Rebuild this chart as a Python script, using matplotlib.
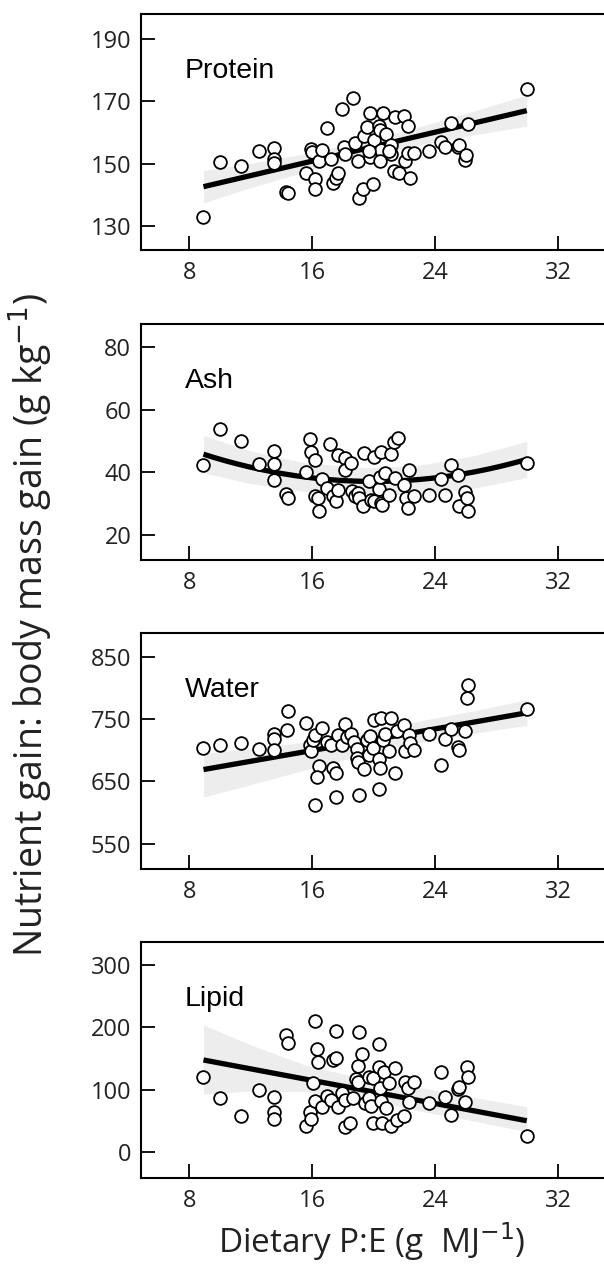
import numpy as np
import matplotlib
matplotlib.use("Agg")
import matplotlib.pyplot as plt

# dietary P:E (g MJ-1) and nutrient gain : body mass gain (g kg-1)
protein_x = [8.92, 10.02, 11.38, 12.54, 13.48, 13.48, 13.53, 14.29, 14.45, 15.6, 15.94, 16.0,
             16.2, 16.2, 16.42, 16.64, 16.99, 17.21, 17.36, 17.52, 17.65, 17.96, 18.07, 18.13,
             18.68, 18.79, 18.96, 19.05, 19.29, 19.38, 19.6, 19.78, 19.78, 19.93, 20.0, 20.37,
             20.43, 20.5, 20.43, 20.59, 20.82, 21.1, 21.16, 21.33, 21.42, 21.64, 21.97, 22.04,
             22.25, 22.25, 22.4, 22.63, 23.61, 24.38, 24.67, 25.04, 25.48, 25.59, 25.98, 26.03,
             26.14, 29.97, 19.67, 21.0]
protein_y = [132.8, 150.6, 149.1, 153.9, 155.0, 151.4, 150.1, 141.0, 140.5, 147.1, 154.6, 153.6,
             145.0, 141.8, 150.7, 154.4, 161.4, 151.4, 143.7, 145.3, 147.1, 167.6, 155.3, 153.1,
             171.0, 156.6, 150.9, 139.1, 141.8, 158.7, 161.7, 166.2, 152.1, 143.5, 157.6, 162.1,
             160.9, 154.4, 150.7, 166.2, 159.6, 156.0, 153.1, 147.5, 165.1, 147.1, 165.4, 150.7,
             162.1, 153.4, 145.3, 153.4, 154.2, 156.8, 155.3, 163.0, 155.3, 156.0, 151.2, 152.8,
             162.8, 174.0, 153.9, 153.9]

ash_x = [8.92, 10.02, 11.38, 12.54, 13.48, 13.53, 13.53, 14.29, 14.45, 15.6, 15.83, 15.94,
         16.2, 16.16, 16.38, 16.42, 16.64, 16.99, 17.19, 17.36, 17.52, 17.65, 17.65, 18.13,
         18.13, 18.53, 18.61, 18.79, 19.0, 19.05, 19.29, 19.4, 19.67, 19.84, 20.0, 20.0,
         20.32, 20.43, 20.5, 20.5, 20.54, 20.76, 20.98, 21.1, 21.31, 21.42, 21.6, 21.97,
         22.08, 22.25, 22.3, 22.63, 23.61, 24.38, 24.67, 25.04, 25.48, 25.55, 25.98, 26.09,
         26.14, 29.97]
ash_y = [42.2, 53.8, 50.1, 42.6, 46.9, 42.6, 37.6, 33.0, 31.7, 40.2, 50.7, 46.6,
         44.0, 32.6, 31.7, 27.7, 38.0, 34.9, 49.0, 32.3, 30.9, 34.5, 45.4, 44.7,
         40.8, 42.9, 34.1, 32.3, 33.3, 31.9, 29.1, 46.1, 37.3, 31.2, 45.0, 30.7,
         34.8, 38.6, 46.4, 30.1, 29.6, 39.7, 32.8, 45.8, 49.6, 38.1, 51.1, 36.0,
         31.7, 28.7, 40.8, 32.3, 32.8, 37.9, 32.8, 42.2, 39.2, 29.4, 33.6, 31.7,
         27.7, 42.9]

water_x = [8.92, 10.02, 11.38, 12.54, 13.48, 13.53, 13.48, 14.45, 14.36, 15.6, 15.83, 15.94,
           16.05, 16.2, 16.42, 16.31, 16.2, 16.64, 16.99, 17.21, 17.36, 17.58, 17.52, 17.65,
           17.96, 18.13, 18.24, 18.53, 18.75, 18.9, 18.9, 19.0, 19.05, 19.34, 19.56, 19.71,
           19.78, 19.93, 20.0, 20.32, 20.32, 20.43, 20.5, 20.59, 20.76, 21.03, 21.1, 21.38,
           21.53, 21.97, 22.04, 22.3, 22.4, 22.63, 23.61, 24.38, 24.67, 25.04, 25.48, 25.55,
           25.98, 26.09, 26.14, 29.97]
water_y = [703.5, 708.8, 712.0, 701.3, 726.4, 718.4, 699.7, 762.1, 731.7, 744.0, 708.8, 698.1,
           715.7, 724.8, 674.7, 657.1, 611.8, 735.4, 713.1, 707.7, 671.5, 663.5, 625.1, 724.8,
           707.7, 741.8, 721.0, 726.4, 713.1, 701.3, 687.5, 681.1, 628.9, 669.4, 715.7, 692.8,
           722.6, 703.5, 748.8, 638.5, 685.3, 671.5, 751.4, 715.7, 726.4, 698.1, 751.4, 664.0,
           730.1, 740.8, 698.1, 723.7, 712.0, 699.7, 726.4, 675.8, 717.3, 733.3, 705.1, 699.7,
           730.1, 783.4, 805.2, 766.3]

lipid_x = [8.92, 10.02, 11.38, 12.54, 13.48, 13.48, 13.53, 14.29, 14.45, 15.6, 15.83, 15.94,
           16.05, 16.2, 16.33, 16.38, 16.2, 16.64, 16.99, 17.21, 17.36, 17.52, 17.58, 17.65,
           17.96, 18.13, 18.13, 18.46, 18.68, 18.83, 18.96, 19.0, 19.05, 19.27, 19.45, 19.67,
           19.71, 19.84, 19.93, 19.93, 20.32, 20.37, 20.43, 20.5, 20.54, 20.65, 20.82, 21.03,
           21.16, 21.38, 21.53, 21.97, 22.04, 22.25, 22.3, 22.63, 23.61, 24.38, 24.67, 25.04,
           25.48, 25.59, 25.98, 26.09, 26.14, 29.97]
lipid_y = [121.2, 86.5, 58.2, 99.8, 89.1, 65.1, 53.4, 187.9, 174.6, 42.7, 65.1, 53.4,
           110.5, 210.3, 165.5, 144.1, 82.2, 73.1, 90.7, 83.8, 147.9, 194.3, 151.6, 73.1,
           94.5, 83.8, 41.1, 46.4, 87.5, 117.4, 113.2, 138.8, 193.2, 156.9, 78.5, 87.5,
           121.2, 74.7, 119.6, 46.4, 172.9, 137.2, 102.5, 82.2, 46.4, 128.1, 71.5, 110.5,
           42.7, 134.5, 51.8, 58.7, 113.2, 102.5, 81.1, 112.1, 78.5, 129.2, 89.1, 59.8,
           101.4, 105.2, 80.1, 137.2, 121.2, 26.7]

# fitted curves (polynomial coefficients, highest power first) as drawn in the figure
protein_fit = [1.159, 132.26]
ash_fit = [0.0708, -2.832, 65.42]
water_fit = [4.32, 630.5]
lipid_fit = [-4.622, 189.0]

# confidence band edges read at these P:E values
band_x = [8.92, 12, 15.5, 19.5, 23, 26.5, 29.97]
protein_lo = [137.4, 142.3, 147.3, 152.4, 156.0, 159.2, 162.0]
protein_hi = [147.8, 150.1, 153.1, 157.4, 161.8, 166.8, 172.0]
ash_lo = [39.8, 36.4, 33.9, 32.7, 33.1, 34.9, 38.3]
ash_hi = [51.8, 46.8, 43.1, 41.5, 42.3, 45.3, 49.9]
water_lo = [625, 645, 668, 694, 712, 727, 740]
water_hi = [695, 703, 713, 730, 747, 763, 781]
lipid_lo = [93, 98, 97, 84, 66, 50, 33]
lipid_hi = [204, 172, 140, 117, 104, 88, 73]

panel_names = ["Protein", "Ash", "Water", "Lipid"]
panel_x = [protein_x, ash_x, water_x, lipid_x]
panel_y = [protein_y, ash_y, water_y, lipid_y]
panel_fit = [protein_fit, ash_fit, water_fit, lipid_fit]
panel_lo = [protein_lo, ash_lo, water_lo, lipid_lo]
panel_hi = [protein_hi, ash_hi, water_hi, lipid_hi]
y_ticks = [[130, 150, 170, 190], [20, 40, 60, 80], [550, 650, 750, 850], [0, 100, 200, 300]]
y_limits = [(122.3, 198.0), (12.0, 87.4), (509.6, 887.9), (-40.7, 337.3)]
x_ticks = [8, 16, 24, 32]

plt.rcParams['font.family'] = ['Open Sans', 'DejaVu Sans']

fig = plt.figure(figsize=(6.04, 12.67), dpi=100)
bottoms = [0.8027, 0.5580, 0.3141, 0.0705]

for i, name in enumerate(panel_names):
    ax = fig.add_axes([0.2334, bottoms[i], 0.7666, 0.1863])
    x = panel_x[i]
    y = panel_y[i]
    xs = np.linspace(min(x), max(x), 200)
    ax.fill_between(band_x, panel_lo[i], panel_hi[i], color='#ededed', lw=0, zorder=1)
    ax.plot(xs, np.polyval(panel_fit[i], xs), color='black', lw=3.8,
            solid_capstyle='butt', zorder=2)
    ax.scatter(x, y, s=84, facecolors='white', edgecolors='black', linewidths=1.3, zorder=3)

    ax.set_xlim(4.85, 35.0)
    ax.set_ylim(*y_limits[i])
    ax.set_xticks(x_ticks)
    ax.set_yticks(y_ticks[i])
    ax.tick_params(direction='in', length=10, width=1.3, labelsize=17, pad=7, colors='black',
                   labelcolor='#222222')
    ax.tick_params(axis='x', pad=8)
    for side in ['left', 'top', 'bottom']:
        ax.spines[side].set_linewidth(1.5)
    ax.spines['right'].set_visible(False)
    ax.text(0.095, 0.728, name, transform=ax.transAxes, fontsize=20.5,
            family=['Liberation Sans', 'DejaVu Sans'], va='baseline', ha='left')

fig.text(0.05, 0.507, 'Nutrient gain: body mass gain (g kg$^{-1}$)', rotation=90,
         ha='center', va='center', fontsize=27, color='#222222')
fig.text(0.616, 1 - 1253 / 1267, 'Dietary P:E (g  MJ$^{-1}$)', ha='center', va='baseline',
         fontsize=24, color='#222222')

fig.savefig('out.png', dpi=100)
